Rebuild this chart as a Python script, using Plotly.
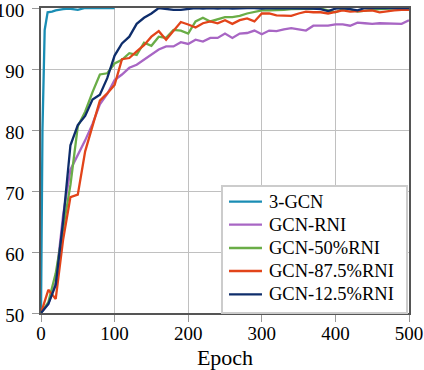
import plotly.graph_objects as go

epochs = list(range(0, 501, 10))

gcn3_epochs = [0, 2, 5, 9, 15, 20, 30, 38, 50, 60, 70, 80, 90, 100]
gcn3 = [50, 80, 96.4, 99.3, 99.4, 99.6, 99.8, 99.9, 99.7, 100, 100, 100, 100, 100]

gcn_rni = [50, 51.5, 55, 66, 73.5, 75.8, 78.3, 81, 84.2, 85.9,
           88.2, 89.1, 90.2, 90.7, 91.5, 92.3, 93.2, 93.7, 93.7, 94.4,
           94.1, 94.8, 94.5, 95.1, 95.1, 95.8, 95.1, 95.8, 95.9, 96.3,
           95.7, 96.3, 96.2, 96.5, 96.7, 96.5, 96.3, 97.1, 97.1, 97.1,
           97.3, 97.3, 97.1, 97.6, 97.5, 97.4, 97.5, 97.5, 97.5, 97.4, 98.0]

gcn_50 = [50, 51.8, 56.5, 63.5, 71, 80.6, 83, 86.2, 89.1, 89.3,
          90.9, 91.5, 92.6, 92.3, 94.3, 93.8, 95.3, 95.1, 96.4, 96.3,
          95.8, 97.8, 98.4, 97.8, 98.2, 98.5, 98.5, 98.7, 99.1, 99.4,
          99.6, 99.6, 99.6, 99.7, 99.8, 99.8, 99.8, 99.9, 99.9, 99.6,
          99.3, 99.8, 99.8, 99.4, 99.6, 99.7, 99.8, 99.9, 99.9, 100, 100]

gcn_875 = [50, 53.8, 52.3, 62, 69, 69.4, 76.5, 80.5, 84.8, 86,
           87.4, 91.6, 91.8, 92.9, 93.9, 95.3, 96.2, 94.8, 96.2, 97.7,
           97.3, 96.8, 97.5, 97.8, 97.5, 98.0, 97.4, 98.0, 98.3, 97.8,
           99.1, 99.1, 98.8, 98.8, 98.7, 99.1, 99.4, 99.3, 99.3, 99.1,
           99.4, 99.6, 99.4, 99.5, 99.6, 99.6, 99.3, 99.5, 99.6, 99.7, 99.7]

gcn_125 = [50, 51.5, 54.6, 65, 77.5, 80.8, 82.3, 85, 85.8, 88.5,
           92.2, 94.2, 95.3, 97.4, 98.4, 99.1, 100, 99.8, 99.7, 99.7,
           99.8, 100, 99.9, 100, 99.9, 100, 99.9, 100, 100, 100,
           99.9, 100, 100, 99.9, 100, 100, 100, 99.9, 99.8, 99.5,
           99.9, 100, 99.8, 99.6, 100, 100, 99.9, 100, 100, 100, 100]

series = [
    ("3-GCN", gcn3_epochs, gcn3, "#1a8db4"),
    ("GCN-RNI", epochs, gcn_rni, "#a866c4"),
    ("GCN-50%RNI", epochs, gcn_50, "#6aad47"),
    ("GCN-87.5%RNI", epochs, gcn_875, "#e2441a"),
    ("GCN-12.5%RNI", epochs, gcn_125, "#0e2d6b"),
]

font = "Liberation Serif"

fig = go.Figure()
for name, x, y, c in series:
    fig.add_trace(go.Scatter(x=x, y=y, name=name, mode="lines", showlegend=False,
                             line=dict(color=c, width=2.3)))

# legend drawn by hand (plotly's own rows are too tall for this box)
fig.add_shape(type="rect", xref="paper", yref="paper",
              x0=0.4918, x1=0.9946, y0=0.0, y1=0.4164,
              fillcolor="white", line=dict(color="#cccccc", width=2), layer="above")
row_y = [0.3649, 0.2895, 0.2131, 0.1377, 0.0613]
for (name, _, _, c), ry in zip(series, row_y):
    fig.add_shape(type="line", xref="paper", yref="paper",
                  x0=0.5109, x1=0.6005, y0=ry, y1=ry,
                  line=dict(color=c, width=2.3), layer="above")
    fig.add_annotation(text=name, xref="paper", yref="paper", x=0.6141, y=ry,
                       xanchor="left", yanchor="middle", showarrow=False,
                       font=dict(family=font, size=18.5, color="black"))

axis = dict(showgrid=True, gridcolor="#c0c0c0", gridwidth=1,
            showline=True, linecolor="#555555", linewidth=2, mirror=True,
            ticks="outside", ticklen=7, tickcolor="#999999",
            zeroline=False, automargin=False, ticklabeloverflow="allow",
            tickfont=dict(family=font, size=19, color="black"))

fig.update_xaxes(range=[0, 500], dtick=100, ticklabelstandoff=-5,
                 title=dict(text="Epoch", font=dict(family=font, size=22, color="black"), standoff=7),
                 **axis)
fig.update_yaxes(range=[50, 100], dtick=10, ticklabelstandoff=4, ticklabelshift=2, **axis)

fig.update_layout(
    width=424, height=370,
    margin=dict(l=41, r=15, t=8, b=57),
    plot_bgcolor="white", paper_bgcolor="white",
    font=dict(family=font, color="black"),
)

fig.write_html("out.html", config={"displayModeBar": False},
               post_script="document.body.style.margin='0';")
